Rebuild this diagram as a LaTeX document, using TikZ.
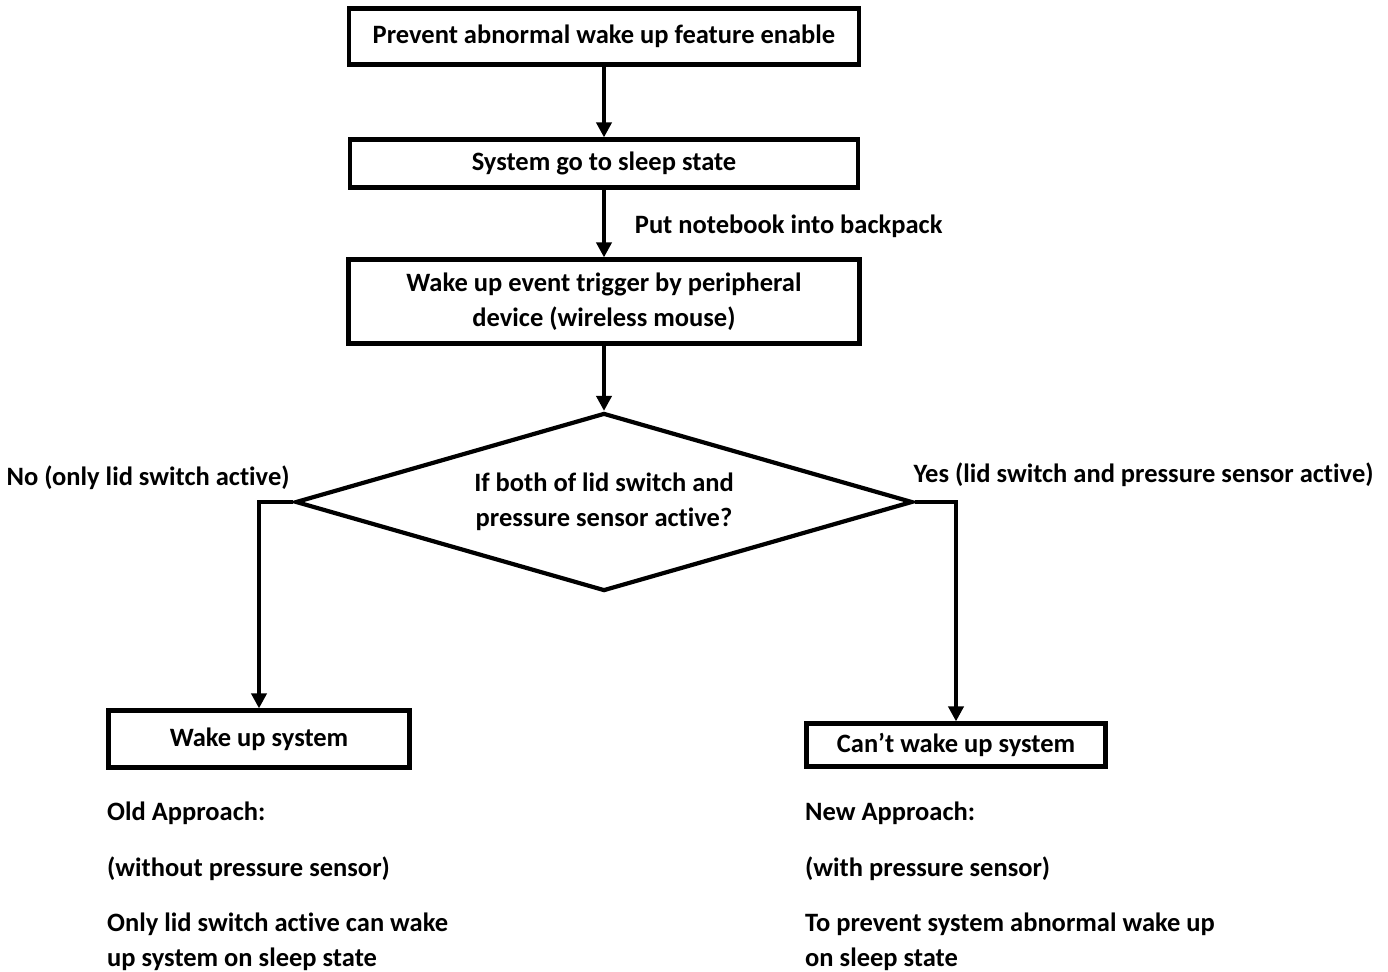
\documentclass[tikz,border=0pt]{standalone}
\usepackage{fontspec}
\setmainfont{Carlito}[Ligatures=NoCommon]
\usetikzlibrary{shapes.geometric,arrows.meta}

\tikzset{
  stepbox/.style={draw, line width=4.2pt, align=center, inner sep=0pt},
  decision/.style={draw, diamond, line width=4.2pt, align=center, aspect=3.47, inner sep=0pt},
  flow/.style={line width=3.8pt, -{Triangle[length=15pt,width=15pt]}},
  lbl/.style={inner sep=0pt},
  note/.style={anchor=west, inner sep=0pt, align=left},
}

\begin{document}
\begin{tikzpicture}[x=1pt,y=-1pt,font=\fontsize{26.5}{34.5}\selectfont\bfseries]
  \useasboundingbox (0,0) rectangle (1388,971);

  % main chain
  \node[stepbox, minimum width=510pt, minimum height=56pt] (enable) at (604,36.5) {Prevent abnormal wake up feature enable};
  \node[stepbox, minimum width=508pt, minimum height=48pt] (sleep) at (604,163.5) {System go to sleep state};
  \node[stepbox, minimum width=511pt, minimum height=84pt] (wakeup) at (604,301.5) {Wake up event trigger by peripheral\\device (wireless mouse)};
  \node[decision, minimum width=617pt, minimum height=178pt] (check) at (604,502) {If both of lid switch and\\pressure sensor active?};
  \node[stepbox, minimum width=301pt, minimum height=57pt] (wakesys) at (259,739) {Wake up system};
  \node[stepbox, minimum width=299pt, minimum height=43pt] (nowake) at (956,745) {Can’t wake up system};

  \draw[flow] (enable) -- (sleep);
  \draw[flow] (sleep) -- node[lbl, right=29pt, yshift=-3pt] {Put notebook into backpack} (wakeup);
  \draw[flow] (wakeup) -- (check);
  \draw[flow] (check.west) -| node[lbl, pos=0, anchor=east, xshift=-2pt, yshift=24pt] {No (only lid switch active)} (wakesys);
  \draw[flow] (check.east) -| node[lbl, pos=0, anchor=west, xshift=-3pt, yshift=27pt] {Yes (lid switch and pressure sensor active)} (nowake);

  % approach notes
  \node[note] (oldtitle) at (107,813) {Old Approach:};
  \node[note] (oldsensor) at (107,869) {(without pressure sensor)};
  \node[note] (olddesc) at (107,942) {Only lid switch active can wake\\up system on sleep state};
  \node[note] (newtitle) at (805,813) {New Approach:};
  \node[note] (newsensor) at (805,869) {(with pressure sensor)};
  \node[note] (newdesc) at (805,942) {To prevent system abnormal wake up\\on sleep state};
\end{tikzpicture}
\end{document}
